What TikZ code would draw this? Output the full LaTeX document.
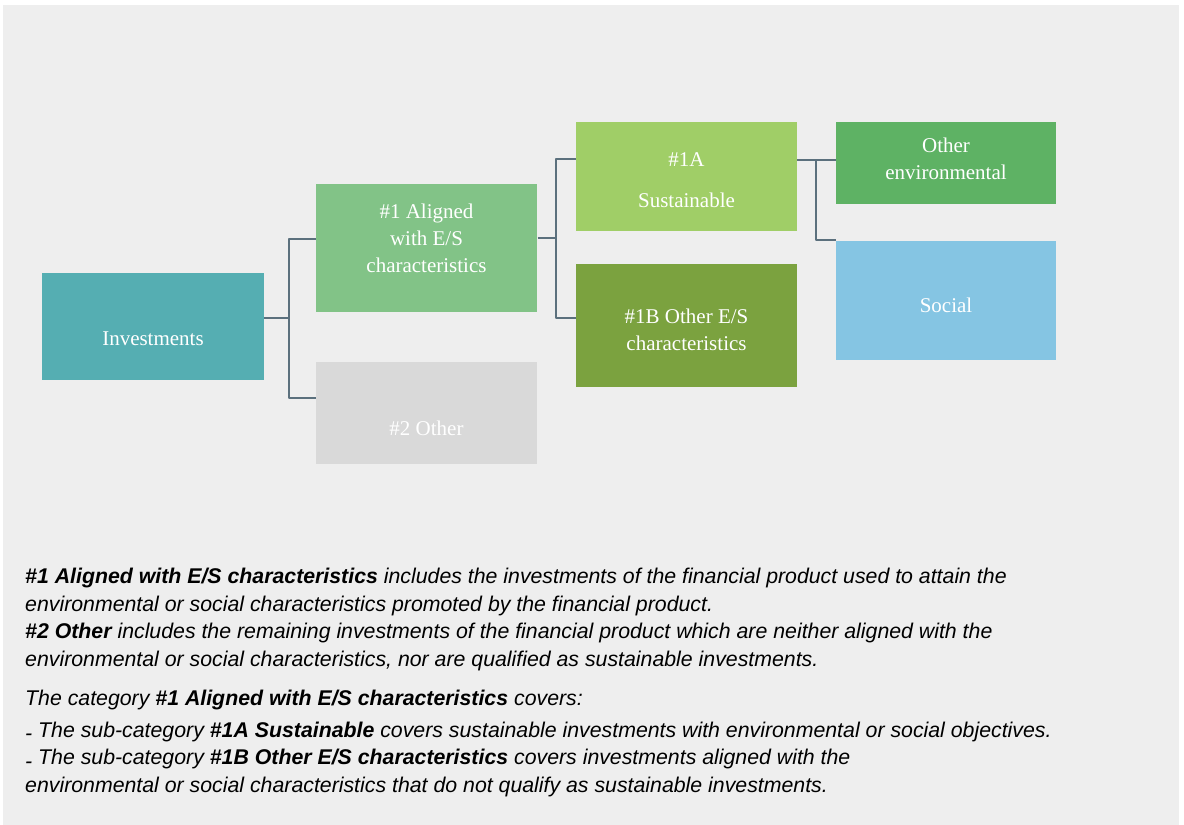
\documentclass[tikz,border=0pt]{standalone}
\usepackage{fontspec}
\setmainfont{Liberation Serif}
\setsansfont{Liberation Sans}
\definecolor{bggray}{HTML}{EEEEEE}
\definecolor{linkslate}{HTML}{5B707D}
\definecolor{invteal}{HTML}{55AEB2}
\definecolor{alignedgreen}{HTML}{82C387}
\definecolor{othergray}{HTML}{D9D9D9}
\definecolor{sustgreen}{HTML}{A0CE67}
\definecolor{esgreen}{HTML}{7BA23F}
\definecolor{envgreen}{HTML}{5EB264}
\definecolor{socialblue}{HTML}{85C5E3}
\begin{document}
\begin{tikzpicture}[line join=bevel,
  box/.style={draw=none,inner sep=0pt,text=white,align=center,font=\fontsize{21bp}{27bp}\selectfont},
  link/.style={draw=linkslate,line width=2bp},
  note/.style={anchor=north west,inner sep=0pt,align=left,font=\sffamily\itshape\fontsize{21.3bp}{27.5bp}\selectfont},
]
%%
\useasboundingbox (0bp,0bp) rectangle (1184bp,-825bp);
\fill [bggray] (3bp,-5bp) rectangle (1179bp,-825bp);
%
\node (node_0) at (153bp,-326.35bp) [box,fill=invteal,minimum width=221.4bp,minimum height=107.3bp,text height=38bp,text depth=0bp] {Investments};
  \node (node_1) at (426.5bp,-248.15bp) [box,fill=alignedgreen,minimum width=221.6bp,minimum height=128.3bp,text depth=19bp] {\#1 Aligned\\with E/S\\characteristics};
  \node (node_2) at (426.5bp,-413.3bp) [box,fill=othergray,minimum width=221.6bp,minimum height=102bp,text height=44bp,text depth=0bp] {\#2 Other};
  \node (node_3) at (686.5bp,-176.35bp) [box,fill=sustgreen,minimum width=221bp,minimum height=108.7bp,text height=63bp,text depth=0bp] {\#1A\\[14bp]Sustainable};
  \node (node_4) at (686.5bp,-325.35bp) [box,fill=esgreen,minimum width=221bp,minimum height=122.7bp,text height=51bp,text depth=0bp] {\#1B Other E/S\\characteristics};
  \node (node_5) at (946bp,-163bp) [box,fill=envgreen,minimum width=220bp,minimum height=82bp,text depth=8bp] {Other\\environmental};
  \node (node_6) at (946bp,-300.35bp) [box,fill=socialblue,minimum width=220bp,minimum height=119.3bp,text height=25bp,text depth=0bp] {Social};
%
\coordinate (fork_0) at (288.7bp,-318.3bp);
  \coordinate (fork_1) at (555.8bp,-238.3bp);
  \coordinate (fork_2) at (816bp,-159.5bp);
  \draw [link] ([yshift=8.05bp]node_0.east) -- (fork_0);
  \draw [link] (fork_0) |- ([yshift=9.15bp]node_1.west);
  \draw [link] (fork_0) |- ([yshift=15bp]node_2.west);
  \draw [link] ([yshift=9.85bp]node_1.east) -- (fork_1);
  \draw [link] (fork_1) |- ([yshift=17.35bp]node_3.west);
  \draw [link] (fork_1) |- ([yshift=7.05bp]node_4.west);
  \draw [link] ([yshift=16.85bp]node_3.east) -- ([yshift=3.5bp]node_5.west);
  \draw [link] (fork_2) |- ([yshift=60.85bp]node_6.west);
%
\node (node_7) at (25bp,-568bp) [note] {\textbf{\#1 Aligned with E/S characteristics} includes the investments of the financial product used to attain the\\
environmental or social characteristics promoted by the financial product.\\
\textbf{\#2 Other} includes the remaining investments of the financial product which are neither aligned with the\\
environmental or social characteristics, nor are qualified as sustainable investments.\\[11.5bp]
The category \textbf{\#1 Aligned with E/S characteristics} covers:\\[4.5bp]
\raisebox{-0.3ex}{-} The sub-category \textbf{\#1A Sustainable} covers sustainable investments with environmental or social objectives.\\
\raisebox{-0.3ex}{-} The sub-category \textbf{\#1B Other E/S characteristics} covers investments aligned with the\\
environmental or social characteristics that do not qualify as sustainable investments.};
%
\end{tikzpicture}
\end{document}
